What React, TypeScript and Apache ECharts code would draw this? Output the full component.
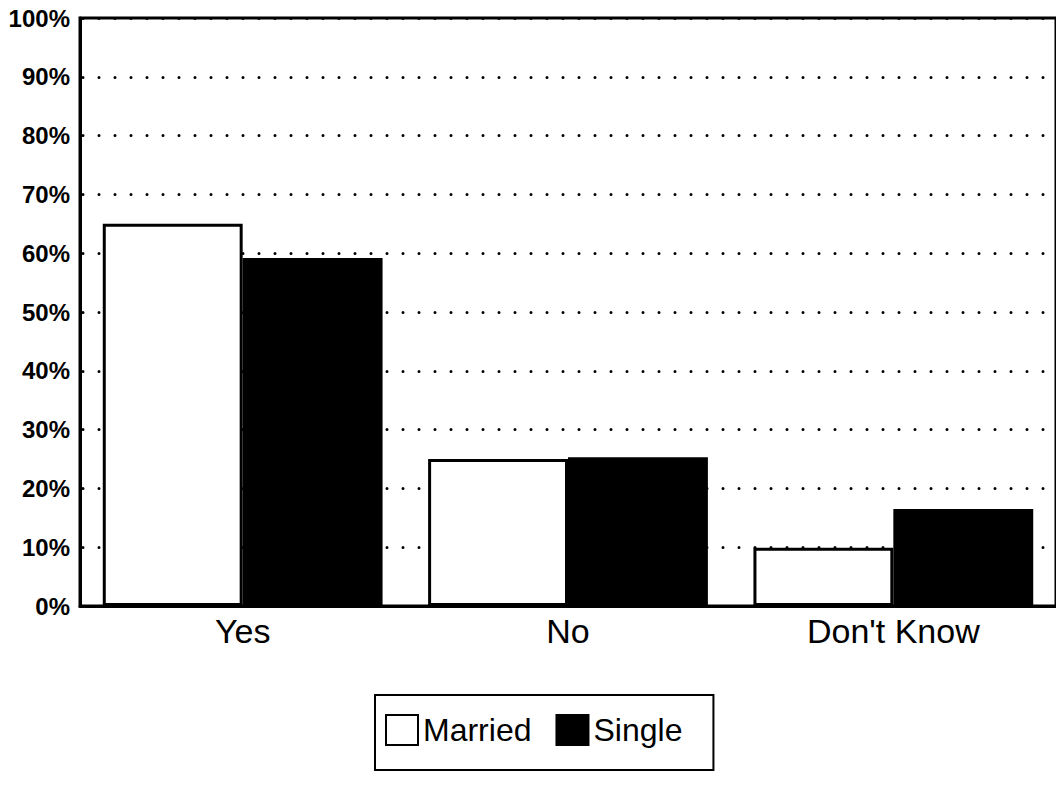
import React, { useEffect, useRef } from "react";
import * as echarts from "echarts";

const categories = ["Yes", "No", "Don't Know"];
const married = [65.0, 25.0, 9.9];
const single = [59.2, 25.3, 16.5];
const seriesNames = ["Married", "Single"];

const FONT = "'Liberation Sans', Arial, Helvetica, sans-serif";

export default function App() {
  const ref = useRef<HTMLDivElement>(null);
  useEffect(() => {
    if (!ref.current) return;
    const chart = echarts.init(ref.current, undefined, { renderer: "svg" });
    chart.setOption({
      animation: false,
      backgroundColor: "#fff",
      grid: {
        left: 80,
        right: -4,
        top: 18,
        bottom: 179,
        show: true,
        borderColor: "#000",
        borderWidth: 3,
        backgroundColor: "transparent",
      },
      legend: {
        left: 375,
        top: 695,
        itemWidth: 32,
        itemHeight: 30,
        itemGap: 24,
        icon: "rect",
        borderColor: "#000",
        borderWidth: 2,
        padding: [19, 31, 24, 10],
        textStyle: { fontFamily: FONT, fontSize: 32, color: "#000" },
        data: seriesNames,
      },
      xAxis: {
        type: "category",
        data: categories,
        axisLine: { show: true, lineStyle: { color: "#000", width: 3 } },
        axisTick: { show: false },
        axisLabel: { color: "#000", fontFamily: FONT, fontSize: 34, margin: 8 },
      },
      yAxis: {
        type: "value",
        min: 0,
        max: 100,
        interval: 10,
        axisLine: { show: true, lineStyle: { color: "#000", width: 3 } },
        axisTick: { show: false },
        axisLabel: {
          color: "#000",
          fontFamily: FONT,
          fontSize: 24,
          fontWeight: "bold",
          margin: 10,
          formatter: "{value}%",
        },
        splitLine: {
          show: true,
          lineStyle: { color: "#000", width: 3, type: [0, 16], cap: "round", dashOffset: -3 },
        },
      },
      series: [
        {
          name: seriesNames[0],
          type: "bar",
          data: married,
          barGap: "0%",
          barCategoryGap: "14%",
          itemStyle: { color: "#fff", borderColor: "#000", borderWidth: 3 },
        },
        {
          name: seriesNames[1],
          type: "bar",
          data: single,
          barGap: "0%",
          barCategoryGap: "14%",
          itemStyle: { color: "#000", borderColor: "#000", borderWidth: 3 },
        },
      ],
    });
    return () => chart.dispose();
  }, []);
  return <div ref={ref} style={{ width: 1056, height: 785, position: "absolute", left: 0, top: 0 }} />;
}
